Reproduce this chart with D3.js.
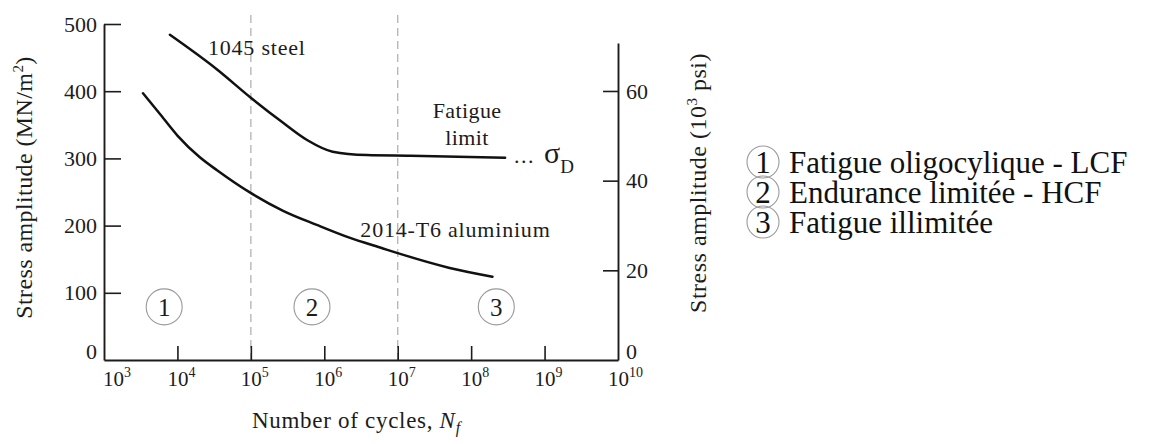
<!DOCTYPE html>
<html>
<head>
<meta charset="utf-8">
<script src="https://cdn.jsdelivr.net/npm/d3@7"></script>
<style>
  html, body { margin: 0; padding: 0; background: #fff; }
  svg { display: block; font-family: "Liberation Serif", "Times New Roman", serif; }
</style>
</head>
<body>
<svg id="chart" width="1149" height="444"></svg>
<script>
// Wöhler (S-N) curves: stress amplitude versus number of cycles to failure
const steelCycles = [7.9e3, 3.5e4, 9.8e4, 2.75e5, 5.9e5, 1.3e6, 3.8e6, 1.5e7, 2.9e8];
const steelStress = [484, 432, 391, 353, 327, 310, 305, 304, 301];

const aluCycles = [3.4e3, 5.6e3, 1e4, 2.0e4, 3.5e4, 9.8e4, 2.75e5, 7.9e5, 2.2e6, 6.3e6, 1e7, 5.1e7, 1.95e8];
const aluStress = [397, 368, 334, 302, 282, 249, 222, 201, 182, 166, 159, 137, 124];

const cycleExponents = [3, 4, 5, 6, 7, 8, 9, 10];
const stressTicks = [0, 100, 200, 300, 400, 500];
const psiTicks = [0, 20, 40, 60];

// regime boundaries and their numbered markers
const regimeBounds = [1e5, 1e7];
const regimeIds = ["1", "2", "3"];
const regimeCycles = [6.6e3, 6.8e5, 2.2e8];
const regimeNames = ["Fatigue oligocylique - LCF", "Endurance limitée - HCF", "Fatigue illimitée"];

const svg = d3.select("#chart");
const ink = "#1c1c1c";

const x = d3.scaleLog().domain([1e3, 1e10]).range([104, 618]);
const y = d3.scaleLinear().domain([0, 500]).range([360, 24]);
const yPsi = d3.scaleLinear().domain([0, 70.7]).range([360, 43]);

// dashed regime boundaries
svg.append("g").selectAll("line")
  .data(regimeBounds)
  .join("line")
  .attr("x1", d => x(d)).attr("x2", d => x(d))
  .attr("y1", 15).attr("y2", y(0))
  .attr("stroke", "#b3b3b3")
  .attr("stroke-width", 1.3)
  .attr("stroke-dasharray", "8,5");

function styleAxis(g) {
  g.selectAll("path.domain").attr("stroke", ink).attr("stroke-width", 1.9);
  g.selectAll(".tick line").attr("stroke", ink).attr("stroke-width", 1.6);
  g.selectAll(".tick text")
    .attr("fill", ink)
    .style("font-family", '"Liberation Serif","Times New Roman",serif')
    .style("font-size", "22px");
}

// left axis (MN/m²)
const gLeft = svg.append("g")
  .attr("transform", `translate(${x(1e3)},0)`)
  .call(d3.axisLeft(y).tickValues(stressTicks).tickSizeInner(-17).tickSizeOuter(0).tickPadding(7));
styleAxis(gLeft);
gLeft.selectAll(".tick").filter(d => d === 0).select("text").attr("dy", "-0.05em");
gLeft.selectAll(".tick").filter(d => d === 0).select("line").remove();

// right axis (10³ psi)
const gRight = svg.append("g")
  .attr("transform", `translate(${x(1e10)},0)`)
  .call(d3.axisRight(yPsi).tickValues(psiTicks).tickSizeInner(-15).tickSizeOuter(0).tickPadding(8));
styleAxis(gRight);
gRight.selectAll(".tick").filter(d => d === 0).select("text").attr("dy", "-0.05em");
gRight.selectAll(".tick").filter(d => d === 0).select("line").remove();

// bottom axis (cycles, log scale)
const gBottom = svg.append("g")
  .attr("transform", `translate(0,${y(0)})`)
  .call(d3.axisBottom(x)
    .tickValues(cycleExponents.slice(1, -1).map(e => Math.pow(10, e)))
    .tickFormat("")
    .tickSizeInner(-14).tickSizeOuter(0));
styleAxis(gBottom);

// power-of-ten tick labels
const xl = svg.append("g").attr("fill", ink).style("font-size", "21px");
cycleExponents.forEach(e => {
  const t = xl.append("text")
    .attr("x", x(Math.pow(10, e)) - (e === 3 ? 1 : 10))
    .attr("y", y(0) + 26);
  t.append("tspan").text("10");
  t.append("tspan").attr("dy", -9).style("font-size", "14px").text(String(e));
});

// S-N curves
const line = d3.line().curve(d3.curveMonotoneX).x(d => x(d[0])).y(d => y(d[1]));
const steel = steelCycles.map((n, i) => [n, steelStress[i]]);
const alu = aluCycles.map((n, i) => [n, aluStress[i]]);
[steel, alu].forEach(pts => {
  svg.append("path")
    .attr("d", line(pts))
    .attr("fill", "none")
    .attr("stroke", "#111")
    .attr("stroke-width", 2.5)
    .attr("stroke-linecap", "round");
});

// curve annotations
const ann = svg.append("g").attr("fill", ink).style("font-size", "22px").style("letter-spacing", "0.8px");
ann.append("text").attr("x", x(2.6e4)).attr("y", y(454)).text("1045 steel");
ann.append("text").attr("x", x(3.1e6)).attr("y", y(183)).text("2014-T6 aluminium");
ann.append("text").attr("x", x(8.8e7)).attr("y", y(360)).attr("text-anchor", "middle").style("letter-spacing", "0.4px").text("Fatigue");
ann.append("text").attr("x", x(8.8e7)).attr("y", y(320)).attr("text-anchor", "middle").style("letter-spacing", "0.4px").text("limit");

// endurance limit symbol after the steel plateau
const endN = steelCycles[steelCycles.length - 1];
const endS = steelStress[steelStress.length - 1];
ann.append("text").attr("x", x(endN) + 9).attr("y", y(endS) + 5)
  .style("letter-spacing", "1.5px").text("...");
const sig = svg.append("text").attr("fill", ink)
  .attr("x", x(endN) + 39).attr("y", y(endS) + 5);
sig.append("tspan").style("font-size", "30px").text("σ");
sig.append("tspan").attr("dy", 10).style("font-size", "19px").text("D");

// numbered regime markers inside the plot
const marks = svg.append("g");
regimeIds.forEach((id, i) => {
  const cx = x(regimeCycles[i]), cy = y(79);
  marks.append("circle").attr("cx", cx).attr("cy", cy).attr("r", 18)
    .attr("fill", "none").attr("stroke", "#9a9a9a").attr("stroke-width", 1.1);
  marks.append("text").attr("x", cx).attr("y", cy + 9).attr("text-anchor", "middle")
    .attr("fill", ink).style("font-size", "25px").text(id);
});

// axis titles
svg.append("text")
  .attr("transform", `translate(32,${(55 + 320) / 2}) rotate(-90)`)
  .attr("text-anchor", "middle").attr("fill", ink)
  .style("font-size", "24px").style("letter-spacing", "0.4px")
  .html('Stress amplitude (MN/m<tspan dy="-9" font-size="15">2</tspan><tspan dy="9">)</tspan>');

svg.append("text")
  .attr("transform", `translate(706,183) rotate(-90)`)
  .attr("text-anchor", "middle").attr("fill", ink)
  .style("font-size", "24px").style("letter-spacing", "0.5px")
  .html('Stress amplitude (10<tspan dy="-9" font-size="15">3</tspan><tspan dy="9"> psi)</tspan>');

const xt = svg.append("text")
  .attr("x", 252).attr("y", 428).attr("fill", ink)
  .style("font-size", "23px").style("letter-spacing", "0.7px");
xt.append("tspan").text("Number of cycles, ");
xt.append("tspan").style("font-style", "italic").text("N");
xt.append("tspan").attr("dy", 5).style("font-style", "italic").style("font-size", "16px").text("f");

// regime legend
const leg = svg.append("g");
regimeNames.forEach((name, i) => {
  const cy = 162 + i * 30;
  leg.append("circle").attr("cx", 763).attr("cy", cy).attr("r", 16)
    .attr("fill", "none").attr("stroke", "#9a9a9a").attr("stroke-width", 1.1);
  leg.append("text").attr("x", 763).attr("y", cy + 11).attr("text-anchor", "middle")
    .attr("fill", "#111").style("font-size", "31px").text(regimeIds[i]);
  leg.append("text").attr("x", 789).attr("y", cy + 11)
    .attr("fill", "#111").style("font-size", "31px").text(name);
});
</script>
</body>
</html>
